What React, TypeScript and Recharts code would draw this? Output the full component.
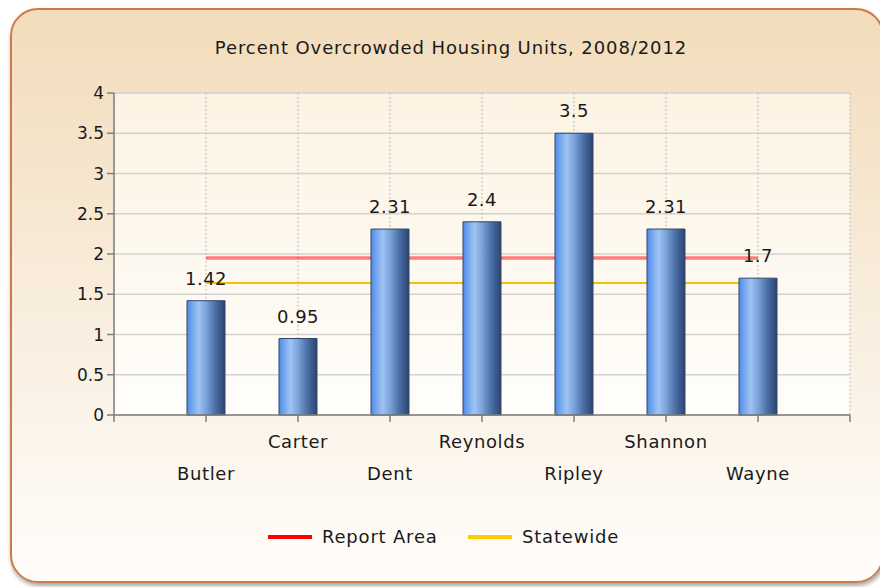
import React from 'react';
import {
  ComposedChart,
  Bar,
  Line,
  XAxis,
  YAxis,
  CartesianGrid,
  LabelList,
} from 'recharts';

const counties = ['Butler', 'Carter', 'Dent', 'Reynolds', 'Ripley', 'Shannon', 'Wayne'];
const overcrowded = [1.42, 0.95, 2.31, 2.4, 3.5, 2.31, 1.7];
const reportArea = [1.95, 1.95, 1.95, 1.95, 1.95, 1.95, 1.95];
const statewide = [1.64, 1.64, 1.64, 1.64, 1.64, 1.64, 1.64];
const yTicks = [0, 0.5, 1, 1.5, 2, 2.5, 3, 3.5, 4];
const xTicks = [0, 1, 2, 3, 4, 5, 6, 7, 8];

const FONT = '"DejaVu Sans", sans-serif';
const TEXT = '#1a1a1a';

const data = counties.map((name, i) => ({
  pos: i + 1,
  name,
  value: overcrowded[i],
  report: reportArea[i],
  state: statewide[i],
}));

// staggered category labels, like the two-row axis in the original
const CountyTick = (props: any) => {
  const { x, y, payload } = props;
  const idx = payload.value - 1;
  if (idx < 0 || idx >= counties.length) return <g />;
  const upper = payload.value % 2 === 0;
  return (
    <text
      x={x}
      y={y + (upper ? 24 : 56)}
      textAnchor="middle"
      fill={TEXT}
      fontSize={18}
      fontFamily={FONT}
      letterSpacing={0.6}
    >
      {counties[idx]}
    </text>
  );
};

const App: React.FC = () => {
  return (
    <div
      style={{
        position: 'absolute',
        left: 0,
        top: 0,
        width: 880,
        height: 587,
        overflow: 'hidden',
        background: '#fff',
        fontFamily: FONT,
      }}
    >
      <div
        style={{
          position: 'absolute',
          left: 10,
          top: 8,
          width: 874,
          height: 575,
          border: '2px solid #cd7a48',
          borderRadius: 28,
          background: 'linear-gradient(to bottom, #f2dcbb 0%, #f8ebd9 45%, #fffdfb 100%)',
          boxShadow: '1px 3px 4px rgba(0,0,0,0.35)',
          boxSizing: 'border-box',
        }}
      />
      <div
        style={{
          position: 'absolute',
          left: 0,
          top: 37,
          width: 902,
          textAlign: 'center',
          fontSize: 18,
          lineHeight: '22px',
          letterSpacing: 0.9,
          color: TEXT,
        }}
      >
        Percent Overcrowded Housing Units, 2008/2012
      </div>

      <div style={{ position: 'absolute', left: 0, top: 0 }}>
        <ComposedChart
          width={880}
          height={587}
          data={data}
          margin={{ top: 93, right: 30, bottom: 92, left: 50 }}
        >
          <defs>
            <linearGradient id="plotBg" x1="0" y1="0" x2="0" y2="1">
              <stop offset="0%" stopColor="#fcf3e3" />
              <stop offset="100%" stopColor="#fffefb" />
            </linearGradient>
            <linearGradient id="barFill" x1="0" y1="0" x2="1" y2="0">
              <stop offset="0%" stopColor="#4f8ae6" />
              <stop offset="12%" stopColor="#6ea3ee" />
              <stop offset="30%" stopColor="#9fc4f4" />
              <stop offset="50%" stopColor="#7ca3da" />
              <stop offset="75%" stopColor="#4a6ea6" />
              <stop offset="100%" stopColor="#2b4470" />
            </linearGradient>
          </defs>
          <CartesianGrid
            horizontal
            vertical={false}
            stroke="#d2d2d2"
            strokeWidth={1.5}
            fill="url(#plotBg)"
            fillOpacity={1}
          />
          <CartesianGrid
            horizontal={false}
            vertical
            stroke="#b5b5b5"
            strokeWidth={1.2}
            strokeDasharray="1.5 2.5"
          />
          <XAxis
            dataKey="pos"
            type="number"
            domain={[0, 8]}
            ticks={xTicks}
            interval={0}
            height={80}
            stroke="#7f7f7f"
            strokeWidth={1.5}
            tickSize={7}
            tick={<CountyTick />}
          />
          <YAxis
            type="number"
            domain={[0, 4]}
            ticks={yTicks}
            width={64}
            stroke="#7f7f7f"
            strokeWidth={1.5}
            tickSize={7}
            tickMargin={3}
            tick={{ fontSize: 17, fill: TEXT, fontFamily: FONT }}
          />
          {/* the two reference lines sit behind the bars */}
          <Line
            dataKey="report"
            type="linear"
            stroke="rgba(255,0,0,0.5)"
            strokeWidth={3.5}
            dot={false}
            activeDot={false}
            zIndex={250}
            isAnimationActive={false}
          />
          <Line
            dataKey="state"
            type="linear"
            stroke="#f2c200"
            strokeWidth={2}
            dot={false}
            activeDot={false}
            zIndex={250}
            isAnimationActive={false}
          />
          <Bar
            dataKey="value"
            barSize={38}
            fill="url(#barFill)"
            stroke="#34466a"
            strokeWidth={1}
            isAnimationActive={false}
          >
            <LabelList
              dataKey="value"
              position="top"
              offset={16}
              fill={TEXT}
              fontSize={18}
              fontFamily={FONT}
              letterSpacing={0.5}
            />
          </Bar>
        </ComposedChart>
      </div>

      <div style={{ position: 'absolute', left: 268, top: 535, width: 44, height: 4, background: '#ff0000' }} />
      <div
        style={{
          position: 'absolute',
          left: 322,
          top: 526,
          fontSize: 18,
          lineHeight: '22px',
          letterSpacing: 0.8,
          color: TEXT,
        }}
      >
        Report Area
      </div>
      <div style={{ position: 'absolute', left: 468, top: 535, width: 44, height: 4, background: '#ffcc00' }} />
      <div
        style={{
          position: 'absolute',
          left: 522,
          top: 526,
          fontSize: 18,
          lineHeight: '22px',
          letterSpacing: 0.8,
          color: TEXT,
        }}
      >
        Statewide
      </div>
    </div>
  );
};

export default App;
